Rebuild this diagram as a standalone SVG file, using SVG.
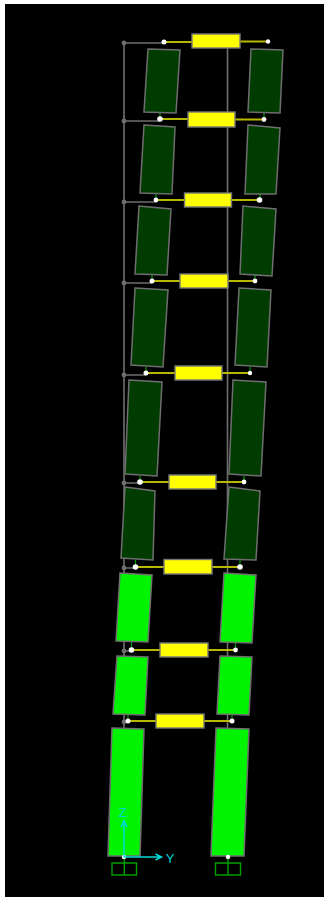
<svg xmlns="http://www.w3.org/2000/svg" width="324" height="897" viewBox="0 0 324 897">
<style>
.frame{stroke:#6e6e6e;stroke-width:1.6;fill:none}
.link{stroke:#b8b800;stroke-width:2;fill:none}
.dark{fill:#003c00;stroke:#6e6e6e;stroke-width:1.5}
.bright{fill:#00f400;stroke:#6e6e6e;stroke-width:1.5}
.beam{fill:#ffff00;stroke:#787878;stroke-width:1.4}
.joint{fill:#ffffff}
.pin{fill:#6e6e6e}
.stem{stroke:#00a000;stroke-width:1.2;fill:none}
.base{stroke:#00a000;stroke-width:1.4;fill:none}
.axis{stroke:#00d8d8;stroke-width:1.5;fill:none}
.lab{font:13px "Liberation Sans",Arial,sans-serif;fill:#00d8d8;text-anchor:middle}
</style>
<rect width="324" height="897" fill="#ffffff"/>
<rect x="5" y="4" width="319" height="893" fill="#000000"/>
<g id="connectors">
<path class="frame" d="M124 43V857M227.500 48V857M124 43H164M124 121H160M124 202H156M124 283H152M124 375H146M124 483H140M124 568H135.500M124 651H131.500M124 722H128"/>
<path class="stem" d="M160 113V119M264 113V119M156 194V200M260 194V200M152 275V281M255 275V281M146 367V373M250 367V373M140 476V482M244 476V482M135.500 560V567M240 560V567M131.500 642V650M235.500 643V650M128 715V721M232 715V721"/>
<path class="link" d="M164 42H192M240 41.500H268M160 119H188M235 119.500H264M156 200H184.500M231.500 200H259.500M152 281H180M228 281H255M146 373H175M222 373H250M140 482H169M216 482H244M135.500 567H164M212 567H240M131.500 650H160M208 650H235.500M128 721H156M204 721H232"/>
</g>
<g id="panels-dark">
<polygon class="dark" points="148,49 180,50 176,113 144,112"/>
<polygon class="dark" points="251,49 283,50 280,113 248,112"/>
<polygon class="dark" points="144,125 175,127 172,194 140,193"/>
<polygon class="dark" points="248,125 280,128 276,194 245,194"/>
<polygon class="dark" points="139,206 171,209 167,275 135,274"/>
<polygon class="dark" points="243,206 276,209 272,276 240,274"/>
<polygon class="dark" points="135,288 168,290 163,367 131,365"/>
<polygon class="dark" points="239,288 271,290 267,367 235,365"/>
<polygon class="dark" points="129,380 162,382 157,476 125,474"/>
<polygon class="dark" points="233,380 266,382 261,476 229,474"/>
<polygon class="dark" points="125,487 155,491 153,560 121,558"/>
<polygon class="dark" points="229,487 260,491 256,560 224,559"/>
</g>
<g id="panels-bright">
<polygon class="bright" points="120,573 152,575 148,642 116,641"/>
<polygon class="bright" points="224,573 256,575 252,643 220,642"/>
<polygon class="bright" points="117,656 148,657 145,715 113,714"/>
<polygon class="bright" points="220,656 252,657 249,715 217,714"/>
<polygon class="bright" points="112,728 144,729 140,856 108,856"/>
<polygon class="bright" points="216,728 249,729 244,856 211,856"/>
</g>
<g id="beams">
<rect class="beam" x="192" y="34" width="48" height="14"/>
<rect class="beam" x="188" y="112" width="47" height="15"/>
<rect class="beam" x="184.500" y="193" width="47" height="14"/>
<rect class="beam" x="180" y="274" width="48" height="14"/>
<rect class="beam" x="175" y="366" width="47" height="14"/>
<rect class="beam" x="169" y="475" width="47" height="14"/>
<rect class="beam" x="164" y="559.500" width="48" height="14.500"/>
<rect class="beam" x="160" y="643" width="48" height="14"/>
<rect class="beam" x="156" y="714" width="48" height="14"/>
</g>
<g id="joints">
<circle class="pin" cx="124" cy="43" r="2.400"/><circle class="pin" cx="124" cy="121" r="2.400"/><circle class="pin" cx="124" cy="202" r="2.400"/><circle class="pin" cx="124" cy="283" r="2.400"/><circle class="pin" cx="124" cy="375" r="2.400"/><circle class="pin" cx="124" cy="483" r="2.400"/><circle class="pin" cx="124" cy="568" r="2.400"/><circle class="pin" cx="124" cy="651" r="2.400"/><circle class="pin" cx="124" cy="722" r="2.400"/>
<circle class="joint" cx="164" cy="42" r="2.500"/><circle class="joint" cx="268" cy="41.500" r="2.200"/>
<circle class="joint" cx="160" cy="119" r="2.800"/><circle class="joint" cx="264" cy="119.500" r="2.400"/>
<circle class="joint" cx="156" cy="200" r="2.400"/><circle class="joint" cx="259.500" cy="200" r="2.800"/>
<circle class="joint" cx="152" cy="281" r="2.500"/><circle class="joint" cx="255" cy="281" r="2.400"/>
<circle class="joint" cx="146" cy="373" r="2.500"/><circle class="joint" cx="250" cy="373" r="2.200"/>
<circle class="joint" cx="140" cy="482" r="2.800"/><circle class="joint" cx="244" cy="482" r="2.400"/>
<circle class="joint" cx="135.500" cy="567" r="2.800"/><circle class="joint" cx="240" cy="567" r="2.800"/>
<circle class="joint" cx="131.500" cy="650" r="2.800"/><circle class="joint" cx="235.500" cy="650" r="2.400"/>
<circle class="joint" cx="128" cy="721" r="2.500"/><circle class="joint" cx="232" cy="721" r="2.500"/>
<circle class="joint" cx="124" cy="857" r="2.200"/><circle class="joint" cx="228" cy="857" r="2.200"/>
</g>
<g id="supports">
<path class="base" d="M112 863H136.500V875H112ZM124.300 859V875"/>
<path class="base" d="M215.500 863H240.500V875H215.500ZM228 859V875"/>
</g>
<g id="axes">
<path class="axis" d="M124 857V821M124 857H161.500M121 827L124 821L127 827M155.500 854L161.500 857L155.500 860"/>
<text class="lab" x="122.700" y="817">Z</text>
<text class="lab" x="170" y="863">Y</text>
</g>
</svg>
